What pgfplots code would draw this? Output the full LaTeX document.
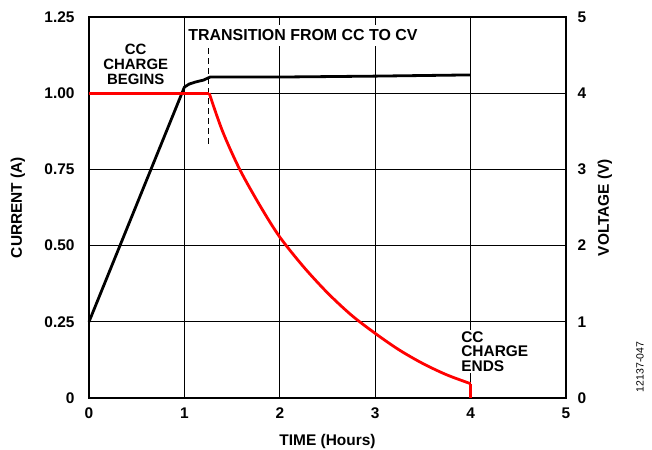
\documentclass[border=0pt]{standalone}
\usepackage{pgfplots}
\pgfplotsset{compat=1.18}
\usepackage{fontspec}
\setmainfont{Liberation Sans}
\definecolor{cred}{RGB}{255,0,0}
\begin{document}
\begin{tikzpicture}
\useasboundingbox (-89bp,-52bp) rectangle (563bp,398bp);
\begin{axis}[
  at={(0,0)}, anchor=south west,
  scale only axis, width=477bp, height=381bp,
  xmin=0, xmax=5, ymin=0, ymax=1.25,
  xtick={0,1,2,3,4,5},
  ytick={0,0.25,0.5,0.75,1,1.25},
  yticklabels={0,0.25,0.50,0.75,1.00,1.25},
  xticklabels={0,1,2,3,4,5},
  major tick length=0pt,
  grid=major,
  major grid style={black, line width=0.8bp},
  axis line style={line width=2.2bp},
  ticklabel style={font=\fontsize{15.5}{17}\selectfont\bfseries},
  yticklabel style={xshift=-11bp},
  xticklabel style={yshift=-6bp},
  clip=false,
]
\addplot[black, line width=2.8bp, line join=round] coordinates {(0,0.25)(1,1.02)(1.05,1.03)(1.12,1.037)(1.2,1.043)(1.27,1.053)(2,1.053)(3,1.056)(4,1.06)};
\addplot[black, line width=0.9bp, dash pattern=on 6bp off 4bp] coordinates {(1.25,1.148)(1.25,0.824)};
\addplot[cred, line width=2.8bp] coordinates {(0,1)(1.26,1)};
\addplot[cred, line width=2.8bp, smooth, tension=0.5] coordinates {(1.26,1)(1.4,0.875)(1.58,0.75)(1.8,0.627)(2,0.528)(2.25,0.43)(2.5,0.345)(2.75,0.272)(3,0.212)(3.25,0.158)(3.5,0.113)(3.75,0.076)(4,0.047)};
\addplot[cred, line width=2.8bp] coordinates {(4,0.047)(4,0)};
\node[fill=white, inner sep=0pt, align=center, font=\fontsize{15}{15}\selectfont\bfseries] at (axis cs:0.49,1.096) {CC\\CHARGE\\BEGINS};
\node[fill=white, inner xsep=1bp, inner ysep=5bp, anchor=west, font=\fontsize{16}{17}\selectfont\bfseries] at (axis cs:1.03,1.19) {TRANSITION FROM CC TO CV};
\node[fill=white, inner sep=1bp, align=left, anchor=west, font=\fontsize{15.5}{15}\selectfont\bfseries] at (axis cs:3.89,0.152) {CC\\CHARGE\\ENDS};
\end{axis}
\begin{axis}[
  at={(0,0)}, anchor=south west,
  scale only axis, width=477bp, height=381bp,
  xmin=0, xmax=5, ymin=0, ymax=5,
  axis x line=none,
  axis y line*=right,
  ytick={0,1,2,3,4,5},
  yticklabels={0,1,2,3,4,5},
  major tick length=0pt,
  axis line style={line width=2.2bp},
  ticklabel style={font=\fontsize{15.5}{17}\selectfont\bfseries},
  yticklabel style={xshift=8bp},
]
\end{axis}
\node[rotate=90, font=\fontsize{15.5}{17}\selectfont\bfseries] at (-71bp,190.5bp) {CURRENT (A)};
\node[rotate=90, font=\fontsize{15.5}{17}\selectfont\bfseries] at (516bp,190.5bp) {VOLTAGE (V)};
\node[font=\fontsize{15.5}{17}\selectfont\bfseries] at (238.5bp,-44bp) {TIME (Hours)};
\node[rotate=90, font=\fontsize{10.5}{12}\selectfont] at (551bp,31bp) {12137-047};
\end{tikzpicture}
\end{document}
